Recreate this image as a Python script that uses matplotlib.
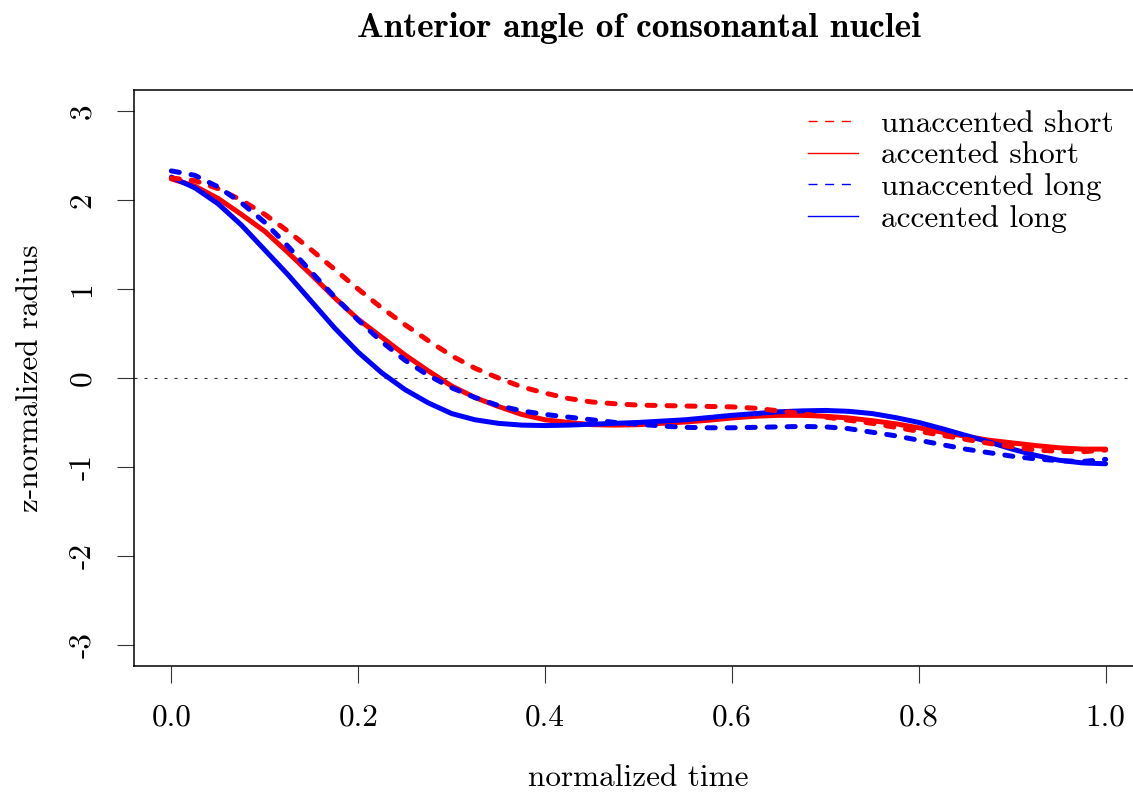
import numpy as np
import matplotlib.pyplot as plt
from matplotlib.lines import Line2D

plt.rcParams['font.family'] = ['cmr10', 'DejaVu Serif']
plt.rcParams['lines.scale_dashes'] = False

# normalized time and z-normalized radius of each group mean
time = np.linspace(0, 1, 41)

unacc_short = [2.25, 2.22, 2.13, 2.00, 1.84, 1.65, 1.44, 1.22, 1.00, 0.79,
               0.60, 0.42, 0.25, 0.11, 0.00, -0.10, -0.17, -0.23, -0.27, -0.29,
               -0.305, -0.31, -0.315, -0.32, -0.325, -0.34, -0.37, -0.40, -0.44, -0.475,
               -0.51, -0.555, -0.60, -0.645, -0.69, -0.735, -0.775, -0.81, -0.825, -0.83,
               -0.81]
acc_short = [2.24, 2.16, 2.02, 1.84, 1.65, 1.41, 1.16, 0.90, 0.66, 0.46,
             0.26, 0.08, -0.09, -0.22, -0.32, -0.41, -0.47, -0.50, -0.525, -0.53,
             -0.525, -0.51, -0.495, -0.475, -0.45, -0.43, -0.42, -0.42, -0.43, -0.45,
             -0.48, -0.515, -0.56, -0.61, -0.655, -0.70, -0.73, -0.76, -0.785, -0.80,
             -0.80]
unacc_long = [2.33, 2.28, 2.15, 1.97, 1.75, 1.48, 1.19, 0.91, 0.65, 0.41,
              0.20, 0.03, -0.11, -0.22, -0.31, -0.37, -0.41, -0.44, -0.47, -0.50,
              -0.52, -0.54, -0.555, -0.56, -0.56, -0.555, -0.55, -0.545, -0.55, -0.57,
              -0.61, -0.65, -0.70, -0.75, -0.80, -0.84, -0.88, -0.91, -0.93, -0.94,
              -0.915]
acc_long = [2.26, 2.14, 1.96, 1.72, 1.44, 1.16, 0.86, 0.56, 0.29, 0.06,
            -0.13, -0.28, -0.40, -0.47, -0.51, -0.53, -0.535, -0.53, -0.52, -0.51,
            -0.50, -0.485, -0.47, -0.445, -0.42, -0.40, -0.38, -0.37, -0.365, -0.375,
            -0.40, -0.445, -0.50, -0.57, -0.645, -0.72, -0.80, -0.87, -0.925, -0.955,
            -0.965]

labels = ['unaccented short', 'accented short', 'unaccented long', 'accented long']
colors = ['#FF0000', '#FF0000', '#0000FF', '#0000FF']
dashed = [True, False, True, False]
series = [unacc_short, acc_short, unacc_long, acc_long]

x_ticks = [0.0, 0.2, 0.4, 0.6, 0.8, 1.0]
y_ticks = [-3, -2, -1, 0, 1, 2, 3]

W, H = 1133, 793
fig = plt.figure(figsize=(W / 100, H / 100), dpi=100)
ax = fig.add_axes([134 / W, 1 - 666 / H, (1143 - 134) / W, (666 - 90) / H])

ax.axhline(0, color='#333333', lw=0.8, linestyle=(0, (2.2, 5)), zorder=1)

for y, c, d in zip(series, colors, dashed):
    if d:
        ax.plot(time, y, color=c, lw=3.6, dashes=(5.8, 8.6),
                dash_capstyle='round', solid_capstyle='round', zorder=3)
    else:
        ax.plot(time, y, color=c, lw=3.6, solid_capstyle='round', zorder=2)

ax.set_xlim(-0.04, 1.04)
ax.set_ylim(-3.24, 3.24)

ax.set_xticks(x_ticks)
ax.set_xticklabels(['%.1f' % v for v in x_ticks])
ax.set_yticks(y_ticks)
ax.set_yticklabels([str(v) for v in y_ticks], rotation=90, va='center')
ax.tick_params(axis='both', length=12, width=0.8, pad=15, labelsize=22.5,
               color='#333333')

for s in ax.spines.values():
    s.set_linewidth(1.1)

handles = [Line2D([], [], color=c, lw=1.0, linestyle=(0, (6.5, 5.5)) if d else '-')
           for c, d in zip(colors, dashed)]
ax.legend(handles, labels, loc='upper left', bbox_to_anchor=(808 / W, 1 - 110 / H),
          bbox_transform=fig.transFigure, frameon=False, fontsize=22.5,
          handlelength=1.6, handletextpad=0.75, labelspacing=0.115,
          borderpad=0, borderaxespad=0)

fig.text(638.5 / W, 1 - 37 / H, 'Anterior angle of consonantal nuclei',
         ha='center', va='baseline', fontsize=25.5, family='cmb10')
fig.text(638.5 / W, 1 - 786 / H, 'normalized time', ha='center',
         va='baseline', fontsize=22.5)
fig.text(30 / W, 0.5 * ((1 - 666 / H) + (1 - 90 / H)), 'z-normalized radius',
         ha='center', va='center', rotation=90, fontsize=22.5)

fig.savefig('out.png', dpi=100)
